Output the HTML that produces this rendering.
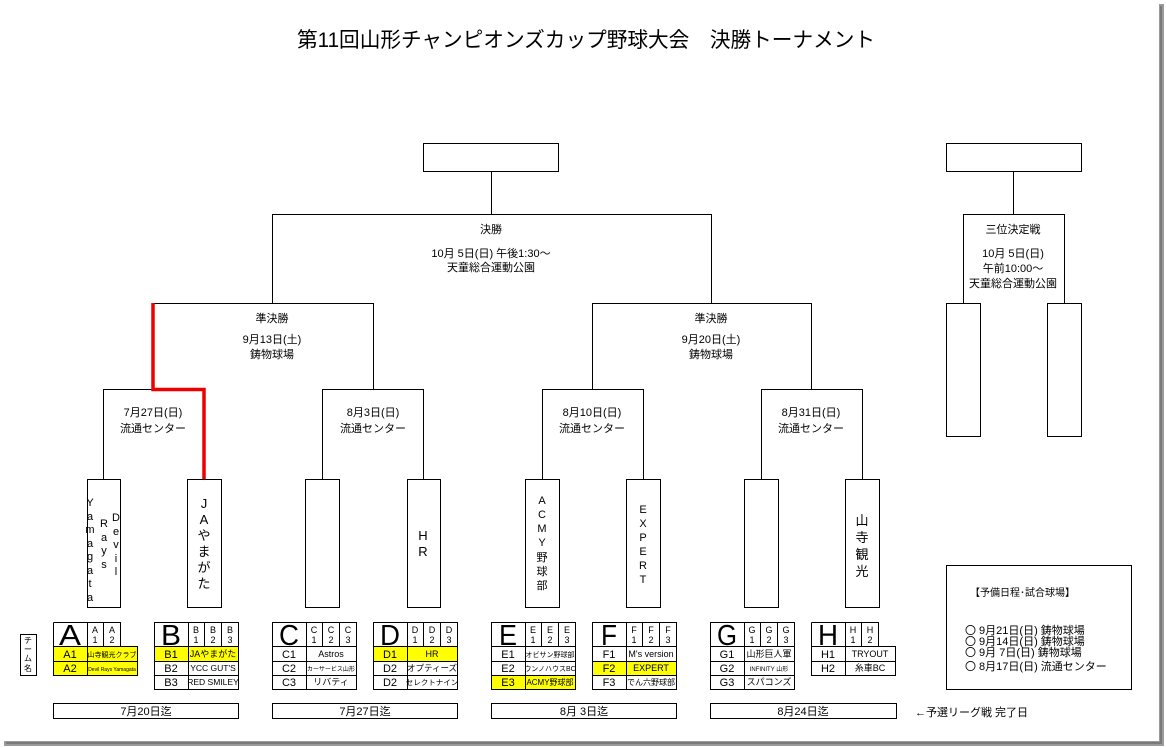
<!DOCTYPE html>
<html><head><meta charset="utf-8"><style>
html,body{margin:0;padding:0;background:#fff;}
svg{display:block;font-family:"Liberation Sans","Noto Sans CJK JP",sans-serif;}
text{fill:#000;}
</style></head><body>
<svg width="1166" height="748" viewBox="0 0 1166 748" xmlns="http://www.w3.org/2000/svg">
<rect x="0" y="0" width="1166" height="748" fill="#fff"/>
<rect x="1159" y="4" width="5" height="742" fill="#9a9a9a"/>
<rect x="4" y="741" width="1160" height="5" fill="#9a9a9a"/>
<rect x="1160" y="6" width="2" height="738" fill="#7a7a7a"/>
<rect x="6" y="742" width="1156" height="2" fill="#7a7a7a"/>

<text x="586" y="47" font-size="21" text-anchor="middle" textLength="578" lengthAdjust="spacingAndGlyphs">第11回山形チャンピオンズカップ野球大会　決勝トーナメント</text>

<g fill="none" stroke="#000" stroke-width="1.2" shape-rendering="crispEdges">
<rect x="423.5" y="143.5" width="135" height="28"/>
<line x1="491.5" y1="171" x2="491.5" y2="214"/>
<polyline points="272.5,303 272.5,214.5 711.5,214.5 711.5,303"/>
<polyline points="373.5,389 373.5,303.5 153,303.5"/>
<polyline points="103.5,479 103.5,389.5 153,389.5"/>
<polyline points="322.5,479 322.5,389.5 423.5,389.5 423.5,479"/>
<polyline points="542.5,479 542.5,389.5 643.5,389.5 643.5,479"/>
<polyline points="592.5,389 592.5,303.5 811.5,303.5 811.5,389"/>
<polyline points="761.5,479 761.5,389.5 862.5,389.5 862.5,479"/>
<rect x="87.5" y="479.5" width="33" height="128"/>
<rect x="187.5" y="479.5" width="34" height="128"/>
<rect x="305.5" y="479.5" width="34" height="128"/>
<rect x="407.5" y="479.5" width="33" height="128"/>
<rect x="525.5" y="479.5" width="34" height="128"/>
<rect x="626.5" y="479.5" width="34" height="128"/>
<rect x="744.5" y="479.5" width="34" height="128"/>
<rect x="845.5" y="479.5" width="34" height="128"/>
<rect x="946.5" y="143.5" width="135" height="28"/>
<line x1="1013.5" y1="171" x2="1013.5" y2="214"/>
<polyline points="963.5,303 963.5,214.5 1064.5,214.5 1064.5,303"/>
<rect x="946.5" y="303.5" width="34" height="133"/>
<rect x="1047.5" y="303.5" width="34" height="133"/>
<rect x="946.5" y="565.5" width="185" height="124"/>
<rect x="20.5" y="634.5" width="16" height="41"/>
<rect x="53.5" y="703.5" width="185" height="15"/>
<rect x="272.5" y="703.5" width="185" height="15"/>
<rect x="491.5" y="703.5" width="185" height="15"/>
<rect x="710.5" y="703.5" width="186" height="15"/>
</g>
<g fill="none" stroke="#e00" stroke-width="3.5">
<polyline points="153,303 153,389.5 204,389.5 204,479"/>
</g>

<g font-size="11" text-anchor="middle">
<text x="491" y="233">決勝</text>
<text x="491" y="257">10月  5日(日) 午後1:30～</text>
<text x="491" y="271">天童総合運動公園</text>
<text x="272" y="322">準決勝</text>
<text x="272" y="343">9月13日(土)</text>
<text x="272" y="358">鋳物球場</text>
<text x="711" y="322">準決勝</text>
<text x="711" y="343">9月20日(土)</text>
<text x="711" y="358">鋳物球場</text>
<text x="153" y="416">7月27日(日)</text>
<text x="153" y="432">流通センター</text>
<text x="373" y="416">8月3日(日)</text>
<text x="373" y="432">流通センター</text>
<text x="592" y="416">8月10日(日)</text>
<text x="592" y="432">流通センター</text>
<text x="811" y="416">8月31日(日)</text>
<text x="811" y="432">流通センター</text>
<text x="1013" y="233">三位決定戦</text>
<text x="1013" y="257">10月  5日(日)</text>
<text x="1013" y="272">午前10:00～</text>
<text x="1013" y="287">天童総合運動公園</text>
</g>

<g font-size="11" text-anchor="middle">
<text x="90" y="506">Y</text><text x="90" y="520">a</text><text x="90" y="533">m</text><text x="90" y="547">a</text><text x="90" y="560">g</text><text x="90" y="574">a</text><text x="90" y="587">t</text><text x="90" y="601">a</text>
<text x="104" y="527">R</text><text x="104" y="541">a</text><text x="104" y="554">y</text><text x="104" y="568">s</text>
<text x="116" y="521">D</text><text x="116" y="535">e</text><text x="116" y="548">v</text><text x="116" y="562">i</text><text x="116" y="575">l</text>
</g>
<g font-size="13" text-anchor="middle">
<text x="204" y="508">J</text><text x="204" y="524">A</text><text x="204" y="540">や</text><text x="204" y="556">ま</text><text x="204" y="572">が</text><text x="204" y="588">た</text>
<text x="423" y="540">H</text><text x="423" y="556">R</text>
<text x="862" y="525">山</text><text x="862" y="542">寺</text><text x="862" y="559">観</text><text x="862" y="576">光</text>
</g>
<g font-size="11" text-anchor="middle">
<text x="542" y="504">A</text><text x="542" y="518">C</text><text x="542" y="532">M</text><text x="542" y="546">Y</text><text x="542" y="561">野</text><text x="542" y="575">球</text><text x="542" y="589">部</text>
<text x="643" y="513">E</text><text x="643" y="527">X</text><text x="643" y="541">P</text><text x="643" y="555">E</text><text x="643" y="569">R</text><text x="643" y="583">T</text>
</g>

<g fill="#ffff00">
<rect x="53" y="646" width="85" height="29"/>
<rect x="154" y="646" width="84" height="15"/>
<rect x="373" y="646" width="84" height="15"/>
<rect x="491" y="675" width="85" height="14"/>
<rect x="592" y="661" width="84" height="14"/>
</g>
<g fill="none" stroke="#000" stroke-width="1" shape-rendering="crispEdges">
<path d="M53.5,622.5H120.5V646.5M53.5,622.5V675.5H137.5V646.5H53.5M87.5,622.5V675.5M103.5,622.5V646.5M53.5,661.5H137.5"/>
<path d="M154.5,622.5H238.5V689.5H154.5ZM188.5,622.5V689.5M204.5,622.5V646.5M221.5,622.5V646.5M154.5,646.5H238.5M154.5,661.5H238.5M154.5,675.5H238.5"/>
<path d="M272.5,622.5H356.5V689.5H272.5ZM306.5,622.5V689.5M322.5,622.5V646.5M339.5,622.5V646.5M272.5,646.5H356.5M272.5,661.5H356.5M272.5,675.5H356.5"/>
<path d="M373.5,622.5H457.5V689.5H373.5ZM407.5,622.5V689.5M423.5,622.5V646.5M440.5,622.5V646.5M373.5,646.5H457.5M373.5,661.5H457.5M373.5,675.5H457.5"/>
<path d="M491.5,622.5H575.5V689.5H491.5ZM525.5,622.5V689.5M541.5,622.5V646.5M558.5,622.5V646.5M491.5,646.5H575.5M491.5,661.5H575.5M491.5,675.5H575.5"/>
<path d="M592.5,622.5H676.5V689.5H592.5ZM626.5,622.5V689.5M642.5,622.5V646.5M659.5,622.5V646.5M592.5,646.5H676.5M592.5,661.5H676.5M592.5,675.5H676.5"/>
<path d="M710.5,622.5H794.5V689.5H710.5ZM744.5,622.5V689.5M760.5,622.5V646.5M777.5,622.5V646.5M710.5,646.5H794.5M710.5,661.5H794.5M710.5,675.5H794.5"/>
<path d="M811.5,622.5H878.5V646.5M811.5,622.5V675.5H895.5V646.5H811.5M845.5,622.5V675.5M861.5,622.5V646.5M811.5,661.5H895.5"/>
</g>

<g font-size="29" text-anchor="middle">
<text x="70" y="645" textLength="22" lengthAdjust="spacingAndGlyphs">A</text>
<text x="171" y="645" textLength="20" lengthAdjust="spacingAndGlyphs">B</text>
<text x="289" y="645" textLength="20" lengthAdjust="spacingAndGlyphs">C</text>
<text x="390" y="645" textLength="20" lengthAdjust="spacingAndGlyphs">D</text>
<text x="508" y="645" textLength="18" lengthAdjust="spacingAndGlyphs">E</text>
<text x="609" y="645" textLength="16" lengthAdjust="spacingAndGlyphs">F</text>
<text x="727" y="645" textLength="20" lengthAdjust="spacingAndGlyphs">G</text>
<text x="828" y="645" textLength="20" lengthAdjust="spacingAndGlyphs">H</text>
</g>
<g font-size="9" text-anchor="middle">
<text x="95" y="633">A</text><text x="95" y="643">1</text><text x="112" y="633">A</text><text x="112" y="643">2</text>
<text x="196" y="633">B</text><text x="196" y="643">1</text><text x="213" y="633">B</text><text x="213" y="643">2</text><text x="230" y="633">B</text><text x="230" y="643">3</text>
<text x="314" y="633">C</text><text x="314" y="643">1</text><text x="331" y="633">C</text><text x="331" y="643">2</text><text x="348" y="633">C</text><text x="348" y="643">3</text>
<text x="415" y="633">D</text><text x="415" y="643">1</text><text x="432" y="633">D</text><text x="432" y="643">2</text><text x="449" y="633">D</text><text x="449" y="643">3</text>
<text x="533" y="633">E</text><text x="533" y="643">1</text><text x="550" y="633">E</text><text x="550" y="643">2</text><text x="567" y="633">E</text><text x="567" y="643">3</text>
<text x="634" y="633">F</text><text x="634" y="643">1</text><text x="651" y="633">F</text><text x="651" y="643">2</text><text x="668" y="633">F</text><text x="668" y="643">3</text>
<text x="752" y="633">G</text><text x="752" y="643">1</text><text x="769" y="633">G</text><text x="769" y="643">2</text><text x="786" y="633">G</text><text x="786" y="643">3</text>
<text x="853" y="633">H</text><text x="853" y="643">1</text><text x="870" y="633">H</text><text x="870" y="643">2</text>
</g>
<g font-size="11" text-anchor="middle">
<text x="70" y="658">A1</text><text x="70" y="672">A2</text>
<text x="171" y="658">B1</text><text x="171" y="672">B2</text><text x="171" y="686">B3</text>
<text x="289" y="658">C1</text><text x="289" y="672">C2</text><text x="289" y="686">C3</text>
<text x="390" y="658">D1</text><text x="390" y="672">D2</text><text x="390" y="686">D2</text>
<text x="508" y="658">E1</text><text x="508" y="672">E2</text><text x="508" y="686">E3</text>
<text x="609" y="658">F1</text><text x="609" y="672">F2</text><text x="609" y="686">F3</text>
<text x="727" y="658">G1</text><text x="727" y="672">G2</text><text x="727" y="686">G3</text>
<text x="828" y="658">H1</text><text x="828" y="672">H2</text>
</g>
<g font-size="9" text-anchor="middle">
<text x="112" y="657" font-size="7">山寺観光クラブ</text>
<text x="112" y="671" font-size="5">Devil Rays Yamagata</text>
<text x="213" y="657">JAやまがた</text>
<text x="213" y="671" font-size="8.5">YCC  GUT'S</text>
<text x="213" y="685" font-size="8.5">RED SMILEY</text>
<text x="331" y="657">Astros</text>
<text x="331" y="671" font-size="6">カーサービス山形</text>
<text x="331" y="685">リバティ</text>
<text x="432" y="657">HR</text>
<text x="432" y="671" font-size="8.5">オプティーズ</text>
<text x="432" y="685" font-size="7.5">セレクトナイン</text>
<text x="550" y="657" font-size="7">オビサン野球部</text>
<text x="550" y="671" font-size="7">ウンノハウスBC</text>
<text x="550" y="685" font-size="8">ACMY野球部</text>
<text x="651" y="657">M's version</text>
<text x="651" y="671">EXPERT</text>
<text x="651" y="685" font-size="8">でん六野球部</text>
<text x="769" y="657">山形巨人軍</text>
<text x="769" y="671" font-size="6">INFINITY 山形</text>
<text x="769" y="685">スパコンズ</text>
<text x="870" y="657">TRYOUT</text>
<text x="870" y="671">糸車BC</text>
</g>
<g font-size="8" text-anchor="middle">
<text x="28" y="643">チ</text><text x="28" y="652">ー</text><text x="28" y="661">ム</text><text x="28" y="671">名</text>
</g>
<g font-size="11" text-anchor="middle">
<text x="146" y="715">7月20日迄</text>
<text x="365" y="715">7月27日迄</text>
<text x="584" y="715">8月  3日迄</text>
<text x="803" y="715">8月24日迄</text>
</g>
<text x="915" y="716" font-size="11">←予選リーグ戦 完了日</text>
<g font-size="10">
<text x="970" y="596">【予備日程･試合球場】</text>
</g>
<g font-size="11">
<text x="965" y="634">〇 9月21日(日)  鋳物球場</text>
<text x="965" y="645">〇 9月14日(日)  鋳物球場</text>
<text x="965" y="656">〇 9月  7日(日)  鋳物球場</text>
<text x="965" y="670">〇 8月17日(日)  流通センター</text>
</g>
</svg>
</body></html>
